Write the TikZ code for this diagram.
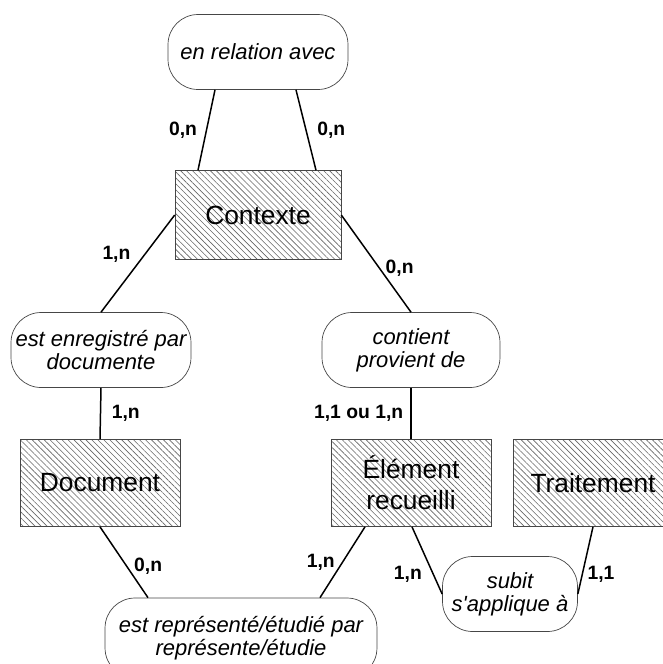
\documentclass[tikz,border=0pt]{standalone}
\usepackage{fontspec}
\setmainfont{Liberation Sans}
\usetikzlibrary{calc,patterns.meta,positioning}
\tikzset{
	entity/.style ={rectangle, draw=gray!55!black, thin, align=center, inner sep=1pt,
		pattern={Lines[angle=-45,distance=2.4pt,line width=0.35pt]}, pattern color=gray!80!black,
		font=\fontsize{15}{17}\selectfont},
	assoc/.style ={rectangle, rounded corners=0.6cm, draw=gray!55!black, thin, fill=white,
		align=center, inner sep=1pt, font=\fontsize{12.5}{13}\selectfont\itshape},
	card/.style = {inner sep=1pt, font=\fontsize{11}{13}\selectfont\bfseries},
	link/.style = {draw, line width=0.85pt}
}

\begin{document}
\begin{tikzpicture}[x=0.02cm,y=-0.02cm]
	\useasboundingbox (0,0) rectangle (663,664);
	\clip (0,0) rectangle (663,664);

	\node[assoc,minimum width=3.6cm,minimum height=1.5cm] (rel) at (258,52) {en relation avec};
	\node[entity,minimum width=3.32cm,minimum height=1.78cm] (ctx) at (258,215) {Contexte};
	\node[assoc,minimum width=3.6cm,minimum height=1.5cm] (enr) at (101,350) {est enregistré par\\documente};
	\node[assoc,minimum width=3.56cm,minimum height=1.5cm] (con) at (411,350) {contient\\provient de};
	\node[entity,minimum width=3.2cm,minimum height=1.74cm] (doc) at (100,483) {Document};
	\node[entity,minimum width=3.2cm,minimum height=1.74cm,font=\fontsize{15}{17.5}\selectfont] (elt) at (411,483) {Élément\\recueilli};
	\node[entity,minimum width=3.2cm,minimum height=1.74cm] (tra) at (593,483) {Traitement};
	\node[assoc,minimum width=2.7cm,minimum height=1.5cm] (sub) at (510,594) {subit\\s\textquotesingle applique à};
	\node[assoc,minimum width=5.44cm,minimum height=1.6cm] (rep) at (241,638) {est représenté/étudié par\\représente/étudie};

	\path ($(rel.south)+(-43,0)$) edge[link] node[card,left=4pt] {0,n} ($(ctx.north)+(-60,0)$);
	\path ($(rel.south)+(38,0)$) edge[link] node[card,right=5pt] {0,n} ($(ctx.north)+(58,0)$);
	\path (ctx.west) edge[link] node[card,pos=.4,left=7pt] {1,n} (enr.north);
	\path (ctx.east) edge[link] node[card,pos=.55,right=2pt] {0,n} (con.north);
	\path (enr.south) edge[link] node[card,right=5pt] {1,n} (doc.north);
	\path (con.south) edge[link] node[card,left=3pt] {1,1 ou 1,n} (elt.north);
	\path (doc.south) edge[link] node[card,pos=.55,right=3pt] {0,n} ($(rep.north)+(-93,0)$);
	\path ($(elt.south)+(-46,0)$) edge[link] node[card,left=3pt] {1,n} ($(rep.north)+(79,0)$);
	\path ($(elt.south)+(1,0)$) edge[link] node[card,pos=.7,left=5pt] {1,n} (sub.west);
	\path (tra.south) edge[link] node[card,pos=.7,right=1.5pt] {1,1} (sub.east);
\end{tikzpicture}
\end{document}
